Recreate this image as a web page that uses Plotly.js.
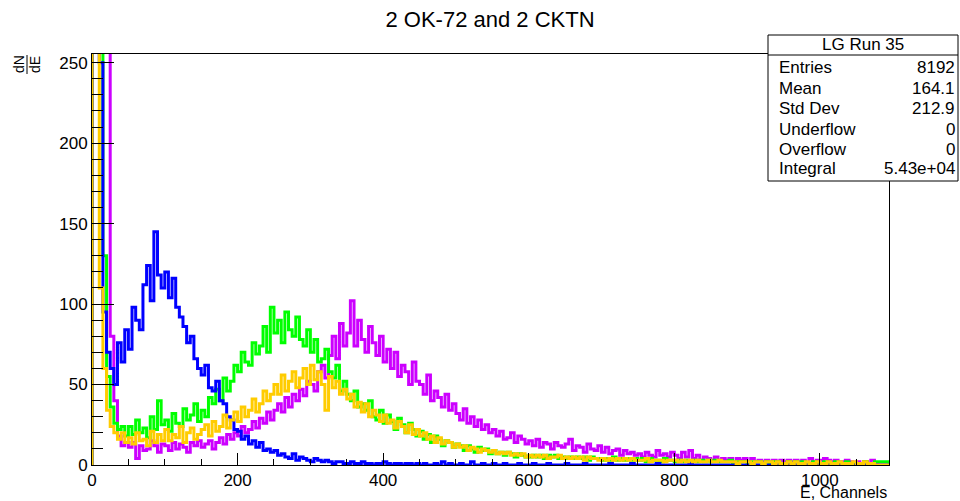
<!DOCTYPE html>
<html><head><meta charset="utf-8">
<script src="https://cdn.plot.ly/plotly-3.0.1.min.js"></script>
<style>html,body{margin:0;padding:0;background:#fff}#chart{width:960px;height:501px}</style>
</head><body><div id="chart"></div>
<script>
// Histogram bins: 5 channels per bin, channels 0..1095
const binWidth = 5;
const xMax = 1095;
const xTickLabels = [0, 200, 400, 600, 800, 1000];

const blueCounts = [
 420,400,250,95,70,60,50,76,64,84,
 72,98,90,84,112,124,102,145,118,110,
 120,104,116,98,92,86,76,80,66,60,
 56,62,48,46,52,40,38,30,28,22,
 21,16,18,13,15,11,14,9,10,8,
 9,6,7,5,4,7,3,5,4,3,
 2,4,3,2,3,2,1,2,2,1,
 1,2,1,1,2,1,1,0,1,1,
 2,1,0,1,1,0,1,1,0,1,
 0,1,0,0,1,0,2,0,1,0,
 0,1,0,0,2,0,0,1,0,0,
 1,0,0,1,0,0,0,1,0,0,
 0,1,0,0,0,1,0,0,0,0,
 1,0,0,0,0,1,0,0,0,0,
 0,0,1,0,0,0,0,0,1,0,
 0,0,0,0,0,1,0,0,0,0,
 0,0,0,0,1,0,0,0,0,0,
 0,0,0,0,0,0,0,1,0,0,
 0,0,0,0,0,0,0,0,0,0,
 0,0,1,0,0,0,0,0,0,0,
 0,0,0,0,0,0,0,0,0,0,
 0,0,0,0,0,0,0,0,0
];

const greenCounts = [
 500,450,300,130,55,36,26,22,24,18,
 24,19,28,20,23,17,30,22,40,25,
 28,21,32,26,24,35,28,31,38,27,
 34,30,42,38,47,40,54,46,52,62,
 58,70,64,62,76,69,74,86,70,98,
 82,90,76,95,84,80,92,78,74,84,
 70,78,64,66,72,58,54,62,46,52,
 44,40,46,36,38,34,40,30,28,34,
 26,31,27,22,29,25,20,26,22,18,
 21,16,19,14,18,16,12,15,14,11,
 13,12,9,12,10,8,11,9,10,7,
 9,7,8,6,8,7,5,7,6,5,
 5,6,5,6,4,6,5,6,4,5,
 4,5,4,5,4,5,3,5,4,4,
 3,4,3,5,3,4,3,4,3,4,
 3,4,2,4,3,3,2,4,3,3,
 2,3,2,3,2,3,2,3,2,3,
 2,3,2,2,2,3,1,2,2,2,
 1,2,2,2,1,2,1,2,2,1,
 1,2,1,2,1,2,1,1,2,1,
 1,2,1,1,2,1,1,2,1,1,
 1,1,2,1,1,2,2,2,2
];

const magentaCounts = [
 700,600,500,400,280,80,40,18,12,14,
 11,14,4,12,9,10,15,12,8,13,
 12,9,14,10,13,11,8,14,12,15,
 11,13,15,10,14,17,13,19,16,20,
 18,24,20,22,27,23,29,26,33,28,
 34,38,33,42,36,44,40,47,43,52,
 50,46,58,62,54,68,80,66,88,74,
 82,102,74,90,78,70,86,76,68,80,
 64,72,60,70,55,62,58,50,64,52,
 50,44,56,40,46,42,36,44,34,38,
 32,28,35,26,30,24,28,22,25,20,
 22,18,21,16,17,20,14,18,16,13,
 15,12,16,11,14,13,10,14,12,11,
 13,16,9,12,11,8,13,10,9,12,
 8,11,7,9,10,6,9,7,8,6,
 7,5,8,6,5,9,6,7,5,8,
 6,4,8,5,9,4,6,3,5,4,
 3,5,3,4,3,4,2,4,3,4,
 2,4,2,3,2,3,2,3,2,3,
 2,3,2,3,2,3,1,4,2,3,
 3,4,3,2,3,2,2,3,2,1,
 2,1,2,1,3,1,0,0,0
];

const yellowCounts = [
 600,500,110,60,34,24,20,16,20,14,
 17,13,20,15,16,12,21,14,19,15,
 22,15,19,17,24,14,20,23,16,19,
 22,25,18,27,21,24,31,23,28,33,
 27,36,30,34,41,33,38,46,40,44,
 50,44,56,46,52,58,48,54,60,50,
 62,53,58,50,34,55,48,52,44,47,
 41,44,36,39,33,38,30,34,31,27,
 31,26,28,23,27,24,20,25,19,22,
 18,20,16,18,14,17,13,15,14,11,
 13,11,12,9,11,10,8,10,9,8,
 9,7,8,7,8,6,7,6,7,5,
 6,5,6,5,6,4,5,5,6,4,
 5,4,5,4,5,3,5,4,4,3,
 4,3,4,3,4,3,4,3,4,3,
 3,3,4,2,3,3,3,2,3,3,
 3,2,3,2,3,2,3,2,2,3,
 2,2,3,2,2,2,2,1,2,2,
 2,1,2,2,1,2,2,1,2,1,
 1,2,1,2,1,1,2,1,1,2,
 1,1,2,1,1,2,1,1,1,2,
 1,1,2,1,1,0,0,0,0
];

const statsTitle = 'LG Run 35';
const statsNames = ['Entries', 'Mean', 'Std Dev', 'Underflow', 'Overflow', 'Integral'];
const statsValues = ['8192', '164.1', '212.9', '0', '0', '5.43e+04'];

function histTrace(vals, color) {
  const x = [0], y = [0];
  vals.forEach((v, i) => { x.push(i * binWidth); y.push(v); });
  x.push(vals.length * binWidth); y.push(vals[vals.length - 1]);
  x.push(vals.length * binWidth); y.push(0);
  return {type: 'scatter', mode: 'lines', x: x, y: y,
          line: {shape: 'hv', color: color, width: 3}, hoverinfo: 'skip'};
}

const L = 92, R = 889, T = 54, B = 465;
const px = v => (v - L) / (R - L);
const py = v => (B - v) / (B - T);

const FONT = 'Liberation Sans, Arial, Helvetica, sans-serif';

const annotations = [];
annotations.push({xref: 'paper', yref: 'paper', x: px(863), y: py(45), text: statsTitle,
  showarrow: false, xanchor: 'center', yanchor: 'middle', font: {size: 17}});
const rowY = [68, 88, 109, 129, 149, 168];
statsNames.forEach((n, i) => {
  annotations.push({xref: 'paper', yref: 'paper', x: px(777), y: py(rowY[i]), text: n,
    showarrow: false, xanchor: 'left', yanchor: 'middle', font: {size: 17}});
  annotations.push({xref: 'paper', yref: 'paper', x: px(957), y: py(rowY[i]), text: statsValues[i],
    showarrow: false, xanchor: 'right', yanchor: 'middle', font: {size: 17}});
});
annotations.push({xref: 'paper', yref: 'paper', x: px(888), y: py(502), text: 'E, Channels',
  showarrow: false, xanchor: 'right', yanchor: 'bottom', font: {size: 16}, borderpad: 0});
annotations.push({xref: 'paper', yref: 'paper', x: px(19), y: py(64), text: 'dN', textangle: -90,
  showarrow: false, xanchor: 'center', yanchor: 'middle', font: {size: 14}});
annotations.push({xref: 'paper', yref: 'paper', x: px(35), y: py(64), text: 'dE', textangle: -90,
  showarrow: false, xanchor: 'center', yanchor: 'middle', font: {size: 14}});

const shapes = [
  {type: 'rect', xref: 'paper', yref: 'paper', x0: px(768), x1: px(958), y0: py(181), y1: py(35),
   fillcolor: '#fff', line: {color: '#000', width: 1}, layer: 'above'},
  {type: 'line', xref: 'paper', yref: 'paper', x0: px(768), x1: px(958), y0: py(55), y1: py(55),
   line: {color: '#000', width: 1}, layer: 'above'},
  {type: 'line', xref: 'paper', yref: 'paper', x0: px(27), x1: px(27), y0: py(55), y1: py(74),
   line: {color: '#000', width: 1}, layer: 'above'}
];

const data = [
  histTrace(magentaCounts, '#cc00ff'),
  histTrace(greenCounts, '#00ff00'),
  histTrace(blueCounts, '#0000ff'),
  histTrace(yellowCounts, '#ffcc00')
];

const layout = {
  width: 960, height: 501,
  margin: {l: 92, r: 71, t: 54, b: 36, pad: 0},
  paper_bgcolor: '#fff', plot_bgcolor: '#fff',
  showlegend: false,
  font: {family: FONT, color: '#000'},
  title: {text: '2 OK-72 and 2 CKTN', font: {size: 22, family: FONT, color: '#000'},
          x: 490 / 960, xanchor: 'center', xref: 'container',
          y: 1 - 19 / 501, yanchor: 'middle', yref: 'container'},
  xaxis: {range: [0, xMax], tickvals: xTickLabels, ticktext: xTickLabels.map(String),
          ticks: 'inside', ticklen: 12, tickwidth: 1, tickcolor: '#000',
          showline: true, linecolor: '#000', linewidth: 1, mirror: true,
          showgrid: false, zeroline: false, tickfont: {size: 17},
          minor: {dtick: 50, tick0: 0, ticks: 'inside', ticklen: 6, tickcolor: '#000', tickwidth: 1, showgrid: false}},
  yaxis: {range: [0, 255.4], tick0: 0, dtick: 50,
          ticks: 'inside', ticklen: 22, tickwidth: 1, tickcolor: '#000',
          showline: true, linecolor: '#000', linewidth: 1, mirror: true,
          showgrid: false, zeroline: false, tickfont: {size: 17},
          minor: {dtick: 10, tick0: 0, ticks: 'inside', ticklen: 11, tickcolor: '#000', tickwidth: 1, showgrid: false}},
  shapes: shapes,
  annotations: annotations
};

Plotly.newPlot('chart', data, layout, {staticPlot: true, displayModeBar: false});
</script>
</body></html>
